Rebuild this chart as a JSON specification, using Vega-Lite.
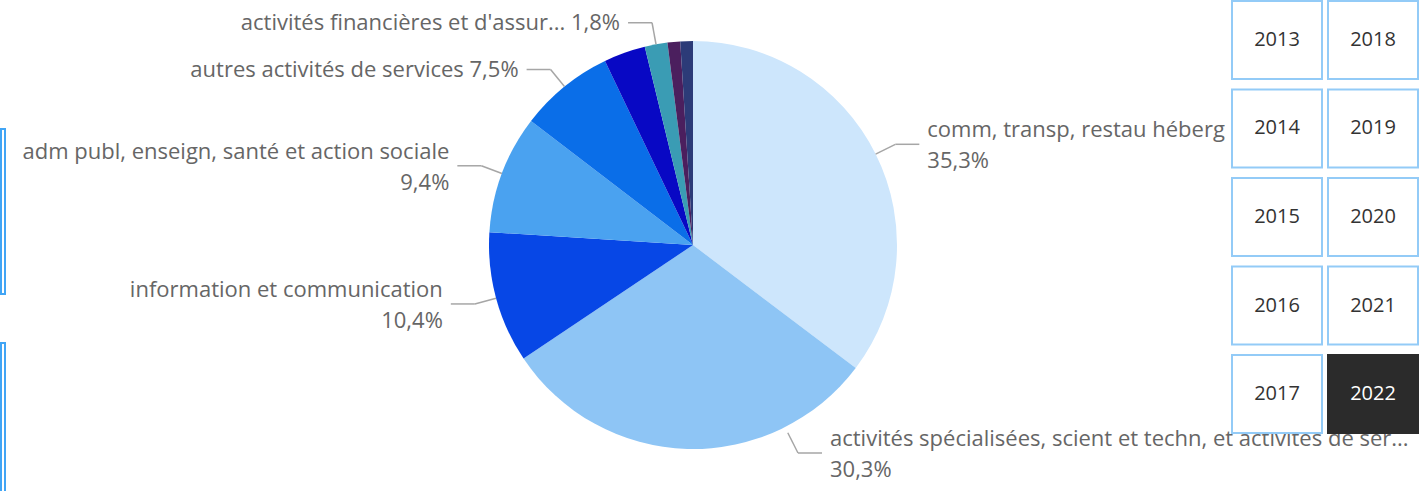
{
  "$schema": "https://vega.github.io/schema/vega-lite/v6.json",
  "padding": 0,
  "background": "white",
  "config": {"view": {"stroke": null}, "font": "Open Sans"},
  "datasets": {
    "parts": [
      {"order": 1, "cat": "comm, transp, restau héberg", "share": 35.3, "label": "comm, transp, restau héberg\n35,3%"},
      {"order": 2, "cat": "activités spécialisées, scient et techn, et activités de services de soutien", "share": 30.3, "label": "activités spécialisées, scient et techn, et activités de ser...\n30,3%"},
      {"order": 3, "cat": "information et communication", "share": 10.4, "label": "information et communication\n10,4%"},
      {"order": 4, "cat": "adm publ, enseign, santé et action sociale", "share": 9.4, "label": "adm publ, enseign, santé et action sociale\n9,4%"},
      {"order": 5, "cat": "autres activités de services", "share": 7.5, "label": "autres activités de services 7,5%"},
      {"order": 6, "cat": "activités immobilières", "share": 3.3, "label": ""},
      {"order": 7, "cat": "activités financières et d'assurance", "share": 1.8, "label": "activités financières et d'assur... 1,8%"},
      {"order": 8, "cat": "industrie", "share": 1.0, "label": ""},
      {"order": 9, "cat": "construction", "share": 1.0, "label": ""}
    ],
    "years": [
      {"year": 2013}, {"year": 2014}, {"year": 2015}, {"year": 2016}, {"year": 2017},
      {"year": 2018}, {"year": 2019}, {"year": 2020}, {"year": 2021}, {"year": 2022}
    ],
    "panels": [{"panel": "A"}, {"panel": "B"}]
  },
  "bounds": "flush",
  "spacing": 10,
  "hconcat": [
    {
      "width": 4,
      "height": 491,
      "data": {"name": "panels"},
      "mark": {"type": "rect", "fill": "white", "stroke": "#41a5f5", "strokeWidth": 2},
      "encoding": {
        "y": {"field": "panel", "type": "nominal", "axis": null,
              "scale": {"range": [128, 507], "paddingInner": 0.229, "paddingOuter": 0}}
      }
    },
    {
      "width": 1207,
      "height": 488,
      "data": {"name": "parts"},
      "layer": [
        {
          "mark": {"type": "arc", "outerRadius": 204},
          "encoding": {
            "x": {"datum": 0, "type": "quantitative", "axis": null, "scale": {"domain": [-678, 529], "nice": false, "zero": false}},
            "y": {"datum": 0, "type": "quantitative", "axis": null, "scale": {"domain": [-244, 244], "nice": false, "zero": false}},
            "theta": {"field": "share", "type": "quantitative", "stack": true},
            "order": {"field": "order", "type": "quantitative"},
            "color": {
              "field": "cat", "type": "nominal", "legend": null,
              "scale": {
                "domain": [
                  "comm, transp, restau héberg",
                  "activités spécialisées, scient et techn, et activités de services de soutien",
                  "information et communication",
                  "adm publ, enseign, santé et action sociale",
                  "autres activités de services",
                  "activités immobilières",
                  "activités financières et d'assurance",
                  "industrie",
                  "construction"
                ],
                "range": ["#cde6fc", "#8ec5f5", "#0747e6", "#4aa2f0", "#0a6ee8", "#0808c4", "#3a9cb4", "#4b1f5e", "#2c3b78"]
              }
            }
          }
        },
        {
          "transform": [
            {"window": [{"op": "sum", "field": "share", "as": "cum"}], "sort": [{"field": "order", "order": "ascending"}], "frame": [null, 0]},
            {"joinaggregate": [{"op": "sum", "field": "share", "as": "total"}]},
            {"calculate": "2*PI*(datum.cum - datum.share/2)/datum.total", "as": "mid"},
            {"calculate": "226*cos(datum.mid) < -208", "as": "clamped"},
            {"calculate": "datum.clamped ? 105 : 226*sin(datum.mid)", "as": "ex"},
            {"calculate": "datum.clamped ? -208 : 226*cos(datum.mid)", "as": "ey"},
            {"calculate": "datum.ex*204/226", "as": "sx"},
            {"calculate": "datum.ey*204/226", "as": "sy"},
            {"calculate": "datum.ex >= 0 ? 1 : -1", "as": "side"},
            {"calculate": "datum.ex + 24*datum.side", "as": "hx"},
            {"calculate": "datum.ex + 32*datum.side", "as": "tx"},
            {"calculate": "indexof(datum.label, '\\n') >= 0 ? datum.ey + 14 : datum.ey", "as": "ty"},
            {"filter": "datum.label != ''"}
          ],
          "layer": [
            {
              "mark": {"type": "rule", "color": "#a6a6a6", "strokeWidth": 1.5},
              "encoding": {
                "x": {"field": "sx", "type": "quantitative", "axis": null, "scale": {"domain": [-678, 529], "nice": false, "zero": false}},
                "x2": {"field": "ex"},
                "y": {"field": "sy", "type": "quantitative", "axis": null, "scale": {"domain": [-244, 244], "nice": false, "zero": false}},
                "y2": {"field": "ey"}
              }
            },
            {
              "mark": {"type": "rule", "color": "#a6a6a6", "strokeWidth": 1.5},
              "encoding": {
                "x": {"field": "ex", "type": "quantitative", "axis": null, "scale": {"domain": [-678, 529], "nice": false, "zero": false}},
                "x2": {"field": "hx"},
                "y": {"field": "ey", "type": "quantitative", "axis": null, "scale": {"domain": [-244, 244], "nice": false, "zero": false}}
              }
            },
            {
              "transform": [{"filter": "datum.side > 0"}],
              "mark": {"type": "text", "align": "left", "baseline": "middle", "lineBreak": "\n", "fontSize": 22, "lineHeight": 31, "color": "#666666"},
              "encoding": {
                "x": {"field": "tx", "type": "quantitative", "axis": null, "scale": {"domain": [-678, 529], "nice": false, "zero": false}},
                "y": {"field": "ty", "type": "quantitative", "axis": null, "scale": {"domain": [-244, 244], "nice": false, "zero": false}},
                "text": {"field": "label", "type": "nominal"}
              }
            },
            {
              "transform": [{"filter": "datum.side < 0"}],
              "mark": {"type": "text", "align": "right", "baseline": "middle", "lineBreak": "\n", "fontSize": 22, "lineHeight": 31, "color": "#666666"},
              "encoding": {
                "x": {"field": "tx", "type": "quantitative", "axis": null, "scale": {"domain": [-678, 529], "nice": false, "zero": false}},
                "y": {"field": "ty", "type": "quantitative", "axis": null, "scale": {"domain": [-244, 244], "nice": false, "zero": false}},
                "text": {"field": "label", "type": "nominal"}
              }
            }
          ]
        }
      ]
    },
    {
      "width": 186,
      "height": 432,
      "data": {"name": "years"},
      "transform": [
        {"calculate": "datum.year < 2018 ? 0 : 1", "as": "col"},
        {"calculate": "(datum.year - 2013) % 5", "as": "row"}
      ],
      "encoding": {
        "x": {"field": "col", "type": "ordinal", "axis": null, "scale": {"paddingInner": 0.0625, "paddingOuter": 0}},
        "y": {"field": "row", "type": "ordinal", "axis": null, "scale": {"paddingInner": 0.12, "paddingOuter": 0}}
      },
      "layer": [
        {
          "mark": {"type": "rect", "strokeWidth": 2},
          "encoding": {
            "fill": {"condition": {"test": "datum.year == 2022", "value": "#2b2b2b"}, "value": "white"},
            "stroke": {"condition": {"test": "datum.year == 2022", "value": "#2b2b2b"}, "value": "#93cbf7"}
          }
        },
        {
          "mark": {"type": "text", "fontSize": 20, "baseline": "middle"},
          "encoding": {
            "text": {"field": "year", "type": "nominal"},
            "color": {"condition": {"test": "datum.year == 2022", "value": "white"}, "value": "#333333"}
          }
        }
      ]
    }
  ]
}
